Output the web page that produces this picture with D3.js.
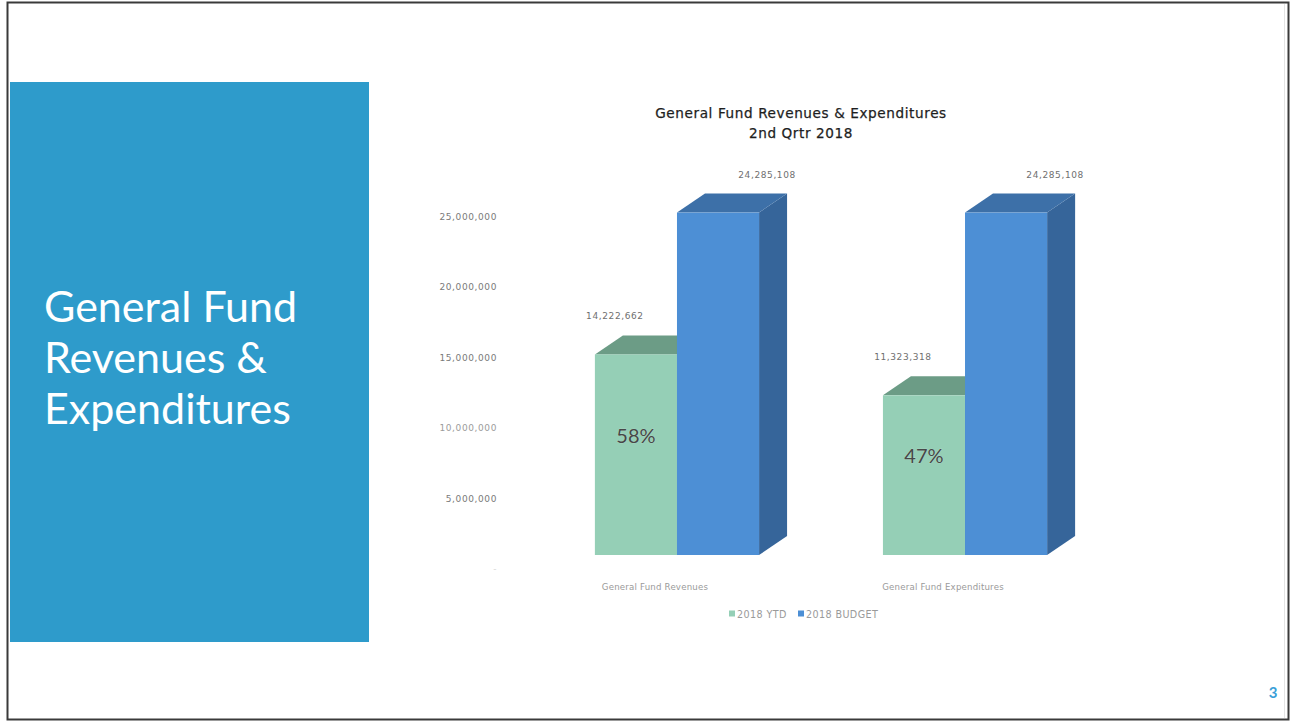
<!DOCTYPE html>
<html>
<head>
<meta charset="utf-8">
<script src="https://cdn.jsdelivr.net/npm/d3@7"></script>
<style>
  html, body { margin: 0; padding: 0; background: #fff; }
  svg { display: block; }
</style>
</head>
<body>
<svg id="slide" width="1293" height="723"></svg>
<script>
// Chart values
const categories = ["General Fund Revenues", "General Fund Expenditures"];
const seriesNames = ["2018 YTD", "2018 BUDGET"];
const ytdValues = [14222662, 11323318];
const budgetValues = [24285108, 24285108];
const percentLabels = ["58%", "47%"];
const yTickValues = [0, 5000000, 10000000, 15000000, 20000000, 25000000];
const titleLines = ["General Fund Revenues & Expenditures", "2nd Qrtr 2018"];
const sideTitleLines = ["General Fund", "Revenues &", "Expenditures"];

const colors = {
  "2018 YTD":    { front: "#95cfb6", top: "#6c9c86", side: "#5f8c77" },
  "2018 BUDGET": { front: "#4d8fd5", top: "#3d70a8", side: "#36659a" }
};

const svg = d3.select("#slide");

// Slide frame
svg.append("rect")
  .attr("x", 7.5).attr("y", 2.5).attr("width", 1281).attr("height", 717)
  .attr("fill", "#fff").attr("stroke", "#3a3a3a").attr("stroke-width", 2);
svg.append("line")
  .attr("x1", 1284.5).attr("x2", 1284.5).attr("y1", 4).attr("y2", 718)
  .attr("stroke", "#e4e4e4").attr("stroke-width", 1);

// Blue side panel with the slide heading
svg.append("rect")
  .attr("x", 10).attr("y", 82).attr("width", 359).attr("height", 560)
  .attr("fill", "#2e9bcb");
svg.append("g").selectAll("text").data(sideTitleLines).join("text")
  .attr("x", 44).attr("y", (d, i) => 322 + i * 51)
  .attr("fill", "#fff")
  .attr("font-family", "Lato, 'Open Sans', sans-serif")
  .attr("font-size", 43)
  .text(d => d);

// Page number
svg.append("text")
  .attr("x", 1273).attr("y", 698).attr("text-anchor", "middle")
  .attr("fill", "#3a9fd8").attr("font-family", "Lato, sans-serif").attr("font-size", 15)
  .attr("font-weight", 700)
  .text("3");

// Chart
const chartFont = "'DejaVu Sans', sans-serif";
const depthX = 28, depthY = -19;

const x0 = d3.scaleBand().domain(categories).range([520, 1122])
  .paddingInner(0.43).paddingOuter(0.26);
const x1 = d3.scaleBand().domain(seriesNames).range([0, x0.bandwidth()]).padding(0);
const y = d3.scaleLinear().domain([0, 25000000]).range([555, 202.5]);

// Title
svg.append("g").selectAll("text").data(titleLines).join("text")
  .attr("x", 801).attr("y", (d, i) => 118 + i * 20)
  .attr("text-anchor", "middle")
  .attr("fill", "#1e1e1e")
  .attr("font-family", chartFont).attr("font-size", 13.6)
  .attr("letter-spacing", 0.6)
  .attr("stroke", "#1e1e1e").attr("stroke-width", 0.25)
  .text(d => d);

// Value axis (labels sit on the back wall, below the front plane)
const yAxis = d3.axisLeft(y)
  .tickValues(yTickValues)
  .tickSize(0)
  .tickPadding(0)
  .tickFormat(v => v === 0 ? "-" : d3.format(",")(v));
const axisG = svg.append("g").attr("transform", "translate(497,14)").call(yAxis);
axisG.select(".domain").remove();
axisG.selectAll("text")
  .attr("fill", d => d === 0 ? "#d8d8d8" : "#7a7a7a")
  .attr("font-family", chartFont).attr("font-size", 9)
  .attr("letter-spacing", 0.6)
  .attr("opacity", d => d === 10000000 ? 0.75 : 1);

// Bars
const rows = categories.map((c, i) => ({
  category: c,
  values: [
    { series: "2018 YTD", value: ytdValues[i] },
    { series: "2018 BUDGET", value: budgetValues[i] }
  ],
  pct: percentLabels[i]
}));

const groups = svg.append("g").selectAll("g").data(rows).join("g")
  .attr("transform", d => `translate(${x0(d.category)},0)`);

groups.each(function(row) {
  const g = d3.select(this);
  row.values.forEach(v => {
    const bx = x1(v.series), bw = x1.bandwidth();
    const top = y(v.value), base = y(0);
    const c = colors[v.series];
    // right side face
    g.append("polygon")
      .attr("points", [[bx + bw, top], [bx + bw + depthX, top + depthY],
                       [bx + bw + depthX, base + depthY], [bx + bw, base]].join(" "))
      .attr("fill", c.side);
    // top face
    g.append("polygon")
      .attr("points", [[bx, top], [bx + depthX, top + depthY],
                       [bx + bw + depthX, top + depthY], [bx + bw, top]].join(" "))
      .attr("fill", c.top);
    // front face
    g.append("rect")
      .attr("x", bx).attr("y", top).attr("width", bw).attr("height", base - top)
      .attr("fill", c.front);
  });

  // value labels above the bars
  row.values.forEach(v => {
    const bx = x1(v.series), bw = x1.bandwidth();
    const lx = v.series === "2018 YTD" ? bx + 20 : bx + bw + 8;
    g.append("text")
      .attr("x", lx).attr("y", y(v.value) + depthY - 16)
      .attr("text-anchor", "middle")
      .attr("fill", "#6f6f6f")
      .attr("font-family", chartFont).attr("font-size", 9)
      .attr("letter-spacing", 0.6)
      .text(d3.format(",")(v.value));
  });

  // percent of budget inside the YTD bar
  const ytd = row.values[0];
  const bx = x1(ytd.series), bw = x1.bandwidth();
  const mid = (y(ytd.value) + y(0)) / 2 - 19;
  g.append("text")
    .attr("x", bx + bw / 2).attr("y", mid + 7)
    .attr("text-anchor", "middle")
    .attr("fill", "#474747")
    .attr("stroke", "#b9ddcd").attr("stroke-width", 0.6).attr("paint-order", "stroke")
    .attr("font-family", "Lato, sans-serif").attr("font-size", 20)
    .text(row.pct);

  // category label
  g.append("text")
    .attr("x", x0.bandwidth() / 2 - 22).attr("y", 590)
    .attr("text-anchor", "middle")
    .attr("fill", "#9a9a9a")
    .attr("font-family", chartFont).attr("font-size", 8.6)
    .attr("letter-spacing", 0.2)
    .text(row.category);
});

// Legend
const legend = svg.append("g").attr("transform", "translate(729,614)");
const legendOffsets = [0, 69];
seriesNames.forEach((s, i) => {
  const lg = legend.append("g").attr("transform", `translate(${legendOffsets[i]},0)`);
  lg.append("rect").attr("x", 0).attr("y", -3.5).attr("width", 6).attr("height", 6)
    .attr("fill", colors[s].front);
  lg.append("text").attr("x", 8).attr("y", 3.5)
    .attr("fill", "#9a9a9a")
    .attr("font-family", chartFont).attr("font-size", 9.6)
    .attr("letter-spacing", 0.4)
    .text(s);
});
</script>
</body>
</html>
